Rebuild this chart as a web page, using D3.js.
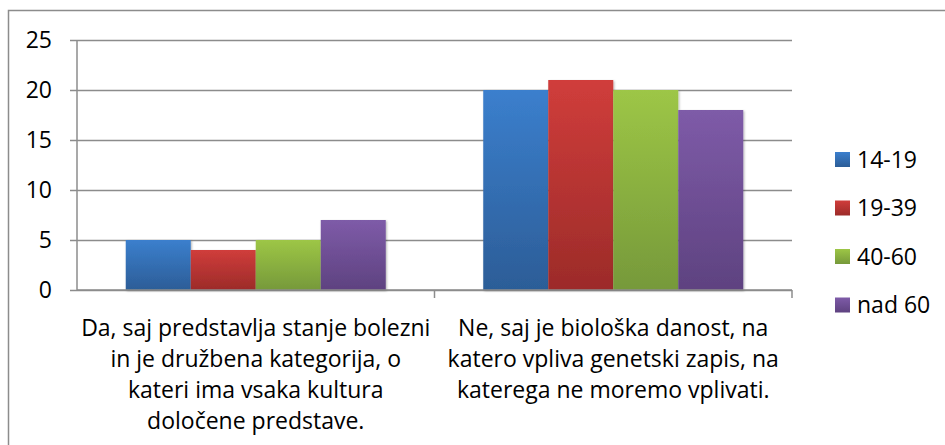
<!DOCTYPE html>
<html>
<head>
<meta charset="utf-8">
<script src="https://cdn.jsdelivr.net/npm/d3@7"></script>
<style>
  body { margin: 0; background: #fff; }
  svg { display: block; font-family: "Open Sans", "Noto Sans", sans-serif; }
</style>
</head>
<body>
<div id="chart"></div>
<script>
// data
const categories = [
  ['Da, saj predstavlja stanje bolezni', 'in je družbena kategorija, o', 'kateri ima vsaka kultura', 'določene predstave.'],
  ['Ne, saj je biološka danost, na', 'katero vpliva genetski zapis, na', 'katerega ne moremo vplivati.']
]
const seriesNames = ['14-19', '19-39', '40-60', 'nad 60']
const seriesValues = [
  [5, 20],
  [4, 21],
  [5, 20],
  [7, 18]
]
const yTicks = [0, 5, 10, 15, 20, 25]
const colorsTop = ['#3b7fcd', '#d03d3b', '#9dc646', '#7e5ba8']
const colorsBottom = ['#2c5d97', '#9c2b29', '#76993a', '#5e4280']

const W = 945, H = 445
const margin = { left: 77, right: 153, top: 40, bottom: 155 }
const fontSize = 23

const svg = d3.select('#chart').append('svg')
  .attr('width', W)
  .attr('height', H)

const defs = svg.append('defs')
seriesNames.forEach((s, i) => {
  const g = defs.append('linearGradient')
    .attr('id', 'grad' + i)
    .attr('x1', 0).attr('y1', 0).attr('x2', 0).attr('y2', 1)
  g.append('stop').attr('offset', '0%').attr('stop-color', colorsTop[i])
  g.append('stop').attr('offset', '100%').attr('stop-color', colorsBottom[i])
})
const shadow = defs.append('filter').attr('id', 'shadow')
  .attr('x', '-20%').attr('y', '-20%').attr('width', '140%').attr('height', '140%')
shadow.append('feDropShadow')
  .attr('dx', 1).attr('dy', 1).attr('stdDeviation', 1.2)
  .attr('flood-color', '#000').attr('flood-opacity', 0.3)

// outer frame
svg.append('rect')
  .attr('x', 8.5).attr('y', 10.5)
  .attr('width', W).attr('height', H)
  .attr('fill', 'none')
  .attr('stroke', '#8c8c8c')
  .attr('stroke-width', 1.5)

const plotW = W - margin.left - margin.right
const plotH = H - margin.top - margin.bottom

const x0 = d3.scaleBand()
  .domain(d3.range(categories.length))
  .range([margin.left, margin.left + plotW])

const x1 = d3.scaleBand()
  .domain(d3.range(seriesNames.length))
  .range([0, x0.bandwidth()])
  .paddingOuter(0.75)

const y = d3.scaleLinear()
  .domain([0, 25])
  .range([margin.top + plotH, margin.top])

// gridlines + y labels
const yAxis = svg.append('g')
  .attr('transform', `translate(${margin.left},0)`)
  .call(d3.axisLeft(y).tickValues(yTicks).tickSize(-plotW).tickSizeOuter(0).tickPadding(25))
yAxis.select('.domain').remove()
yAxis.selectAll('.tick line')
  .attr('x1', -7)
  .attr('stroke', '#8c8c8c')
  .attr('stroke-width', 1.5)
yAxis.selectAll('.tick text')
  .attr('font-size', fontSize)
  .attr('font-family', '"Open Sans", sans-serif')
  .attr('fill', '#000')

// y axis line
svg.append('line')
  .attr('x1', margin.left).attr('x2', margin.left)
  .attr('y1', y(25)).attr('y2', y(0))
  .attr('stroke', '#8c8c8c').attr('stroke-width', 1.5)

// bars
const groups = svg.append('g').selectAll('g')
  .data(categories)
  .join('g')
  .attr('transform', (_, ci) => `translate(${x0(ci)},0)`)

groups.selectAll('rect')
  .data((_, ci) => seriesValues.map((vals, si) => ({ si, v: vals[ci] })))
  .join('rect')
  .attr('x', d => x1(d.si))
  .attr('width', x1.bandwidth())
  .attr('y', d => y(d.v))
  .attr('height', d => y(0) - y(d.v))
  .attr('fill', d => `url(#grad${d.si})`)
  .attr('filter', 'url(#shadow)')

// x axis
const xAxis = svg.append('g')
  .attr('transform', `translate(0,${y(0)})`)
  .call(d3.axisBottom(x0).tickSize(0).tickFormat(''))
xAxis.select('.domain')
  .attr('stroke', '#8c8c8c').attr('stroke-width', 1.5)
  .attr('d', `M${margin.left},0H${margin.left + plotW}`)
xAxis.selectAll('.tick').remove()
xAxis.selectAll('.sep')
  .data(d3.range(categories.length + 1))
  .join('line')
  .attr('x1', i => margin.left + i * x0.bandwidth())
  .attr('x2', i => margin.left + i * x0.bandwidth())
  .attr('y1', 0).attr('y2', i => i === 0 ? 0 : 8)
  .attr('stroke', '#8c8c8c').attr('stroke-width', 1.5)

// category labels
svg.append('g').selectAll('text')
  .data(categories)
  .join('text')
  .attr('x', (_, i) => x0(i) + x0.bandwidth() / 2)
  .attr('y', y(0) + 46)
  .attr('text-anchor', 'middle')
  .attr('font-size', fontSize)
  .attr('fill', '#000')
  .selectAll('tspan')
  .data(d => d)
  .join('tspan')
  .attr('x', function () { return this.parentNode.getAttribute('x') })
  .attr('dy', (_, i) => i === 0 ? 0 : 31)
  .text(d => d)

// legend
const legend = svg.append('g')
  .attr('transform', 'translate(835,159)')
const item = legend.selectAll('g')
  .data(seriesNames)
  .join('g')
  .attr('transform', (_, i) => `translate(0,${i * 48.5})`)
item.append('rect')
  .attr('x', 0).attr('y', -7)
  .attr('width', 15).attr('height', 15)
  .attr('fill', (_, i) => `url(#grad${i})`)
item.append('text')
  .attr('x', 22).attr('y', 8.5)
  .attr('font-size', fontSize)
  .attr('fill', '#000')
  .text(d => d)
</script>
</body>
</html>
